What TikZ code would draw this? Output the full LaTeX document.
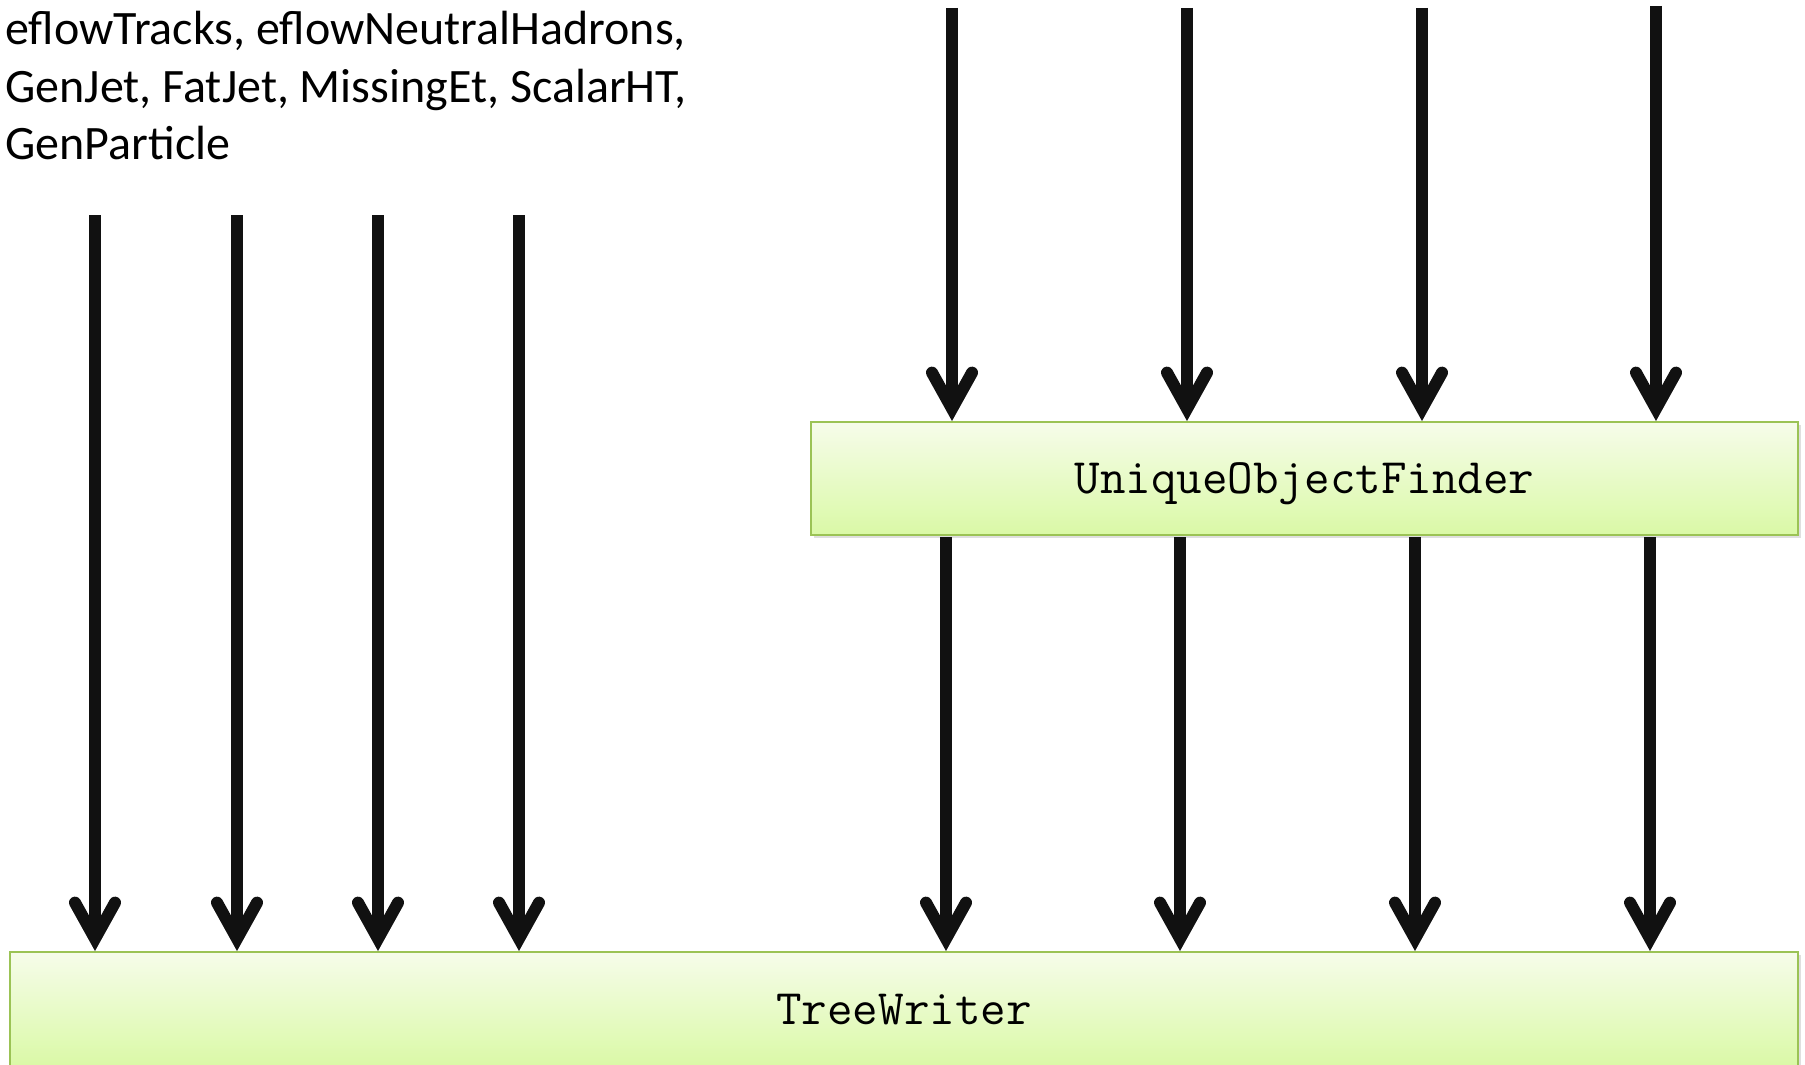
\documentclass[tikz,border=0pt]{standalone}
\usepackage{fontspec}
\setmainfont{Carlito}
\usetikzlibrary{arrows.meta,shadows}

\definecolor{boxtop}{RGB}{246,252,234}
\definecolor{boxbot}{RGB}{218,249,166}
\definecolor{boxline}{RGB}{155,195,85}
\definecolor{arrowink}{RGB}{17,17,17}

\tikzset{
  modbox/.style={draw=boxline, line width=1pt, top color=boxtop, bottom color=boxbot,
    inner sep=0pt, text depth=0pt, font=\ttfamily\fontsize{24.8}{29}\selectfont},
  flow/.style={draw=arrowink, line width=6pt,
    -{Straight Barb[length=18pt, width=20pt, line cap=round, line join=miter]}},
}

\begin{document}
\begin{tikzpicture}[x=0.5pt, y=-0.5pt]
  \useasboundingbox (0,0) rectangle (1805,1065);

  % collections handed straight to the writer
  \node[anchor=north west, align=left, inner sep=0pt,
        font=\fontsize{24}{28.7}\selectfont] (coll) at (5,11)
    {eflowTracks, eflowNeutralHadrons,\\GenJet, FatJet, MissingEt, ScalarHT,\\GenParticle};

  % modules
  \node[modbox, minimum width=493.5pt, minimum height=56.5pt,
        drop shadow={shadow xshift=1.5pt, shadow yshift=-1.5pt, opacity=0.25}]
    (uof) at (1304.5,478.5) {UniqueObjectFinder};
  \node[modbox, minimum width=894pt, minimum height=57.5pt,
        drop shadow={shadow xshift=1.5pt, shadow yshift=-1.5pt, opacity=0.25}]
    (tw) at (904,1009.5) {TreeWriter};

  % direct inputs of the writer
  \coordinate (l1) at (95,215);
  \coordinate (l2) at (237,215);
  \coordinate (l3) at (378,215);
  \coordinate (l4) at (519,215);
  \foreach \c in {l1,l2,l3,l4}
    \draw[flow] (\c) -- (\c |- tw.north);

  % inputs of the finder
  \coordinate (u1) at (952,8);
  \coordinate (u2) at (1187,8);
  \coordinate (u3) at (1422,8);
  \coordinate (u4) at (1656,6);
  \foreach \c in {u1,u2,u3,u4}
    \draw[flow] (\c) -- (\c |- uof.north);

  % outputs of the finder into the writer
  \coordinate (d1) at (946,537);
  \coordinate (d2) at (1180,537);
  \coordinate (d3) at (1415,537);
  \coordinate (d4) at (1650,537);
  \foreach \c in {d1,d2,d3,d4}
    \draw[flow] (\c) -- (\c |- tw.north);
\end{tikzpicture}
\end{document}
